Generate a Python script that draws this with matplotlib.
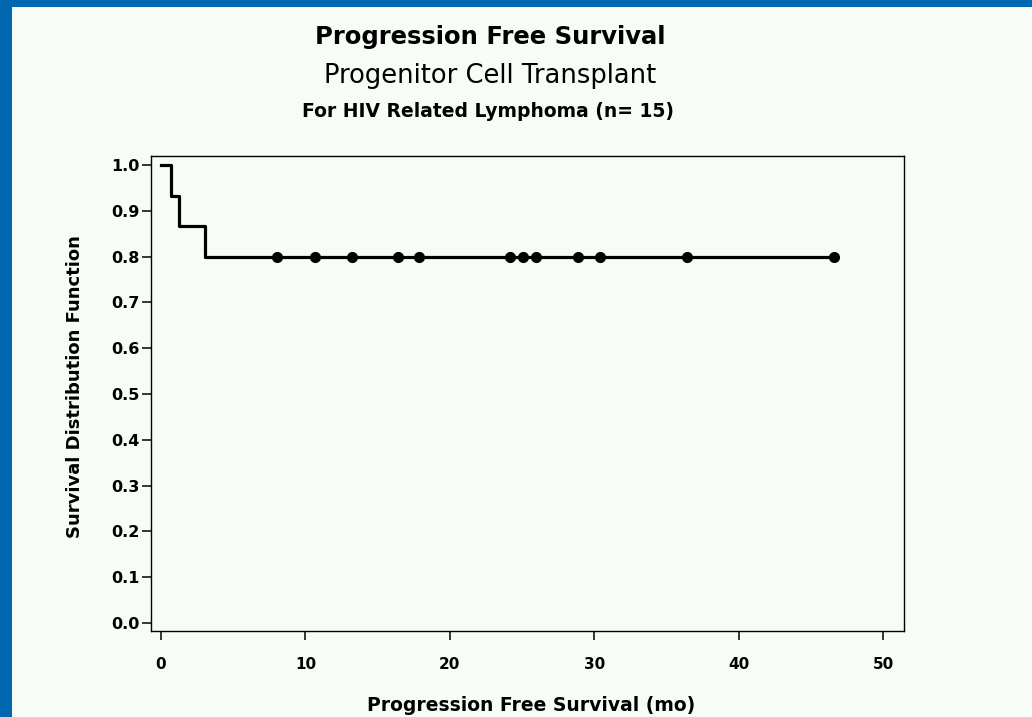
import matplotlib
matplotlib.use("Agg")
import matplotlib.pyplot as plt
from matplotlib.patches import Rectangle
import numpy as np

# ---- data ----
event_times = [0.0, 0.69, 1.25, 3.05]          # months where survival steps
survival_levels = [1.0, 0.933, 0.867, 0.8]     # survival after each step
censor_times = [8.0, 10.7, 13.2, 16.4, 17.9, 24.2, 25.1, 26.0, 28.9, 30.4, 36.4, 46.6]
x_ticks = [0, 10, 20, 30, 40, 50]
y_ticks = [0.0, 0.1, 0.2, 0.3, 0.4, 0.5, 0.6, 0.7, 0.8, 0.9, 1.0]
y_tick_labels = ["0.0", "0.1", "0.2", "0.3", "0.4", "0.5", "0.6", "0.7", "0.8", "0.9", "1.0"]

title_1 = "Progression Free Survival"
title_2 = "Progenitor Cell Transplant"
title_3 = "For HIV Related Lymphoma (n= 15)"
x_label = "Progression Free Survival (mo)"
y_label = "Survival Distribution Function"

BG = "#f7fcf7"
BLUE = "#0067b1"

plt.rcParams["font.family"] = ["DejaVu Sans"]

fig = plt.figure(figsize=(10.32, 7.17), dpi=100, facecolor=BG)

# blue slide frame (left and top bands)
fig.patches.append(Rectangle((0, 0), 12 / 1032, 1, transform=fig.transFigure,
                             facecolor=BLUE, edgecolor="none", zorder=0))
fig.patches.append(Rectangle((0, 1 - 7 / 717), 1, 7 / 717, transform=fig.transFigure,
                             facecolor=BLUE, edgecolor="none", zorder=0))

ax = fig.add_axes([151 / 1032, 1 - 631 / 717, 753 / 1032, 475 / 717])
ax.set_facecolor(BG)

# Kaplan-Meier step curve
last_t = max(censor_times)
step_x = event_times + [last_t]
step_y = survival_levels + [survival_levels[-1]]
ax.plot(step_x, step_y, drawstyle="steps-post", color="black", lw=2.3, zorder=3)

# censored observations
idx = np.searchsorted(event_times, censor_times, side="right") - 1
censor_y = [survival_levels[i] for i in idx]
ax.plot(censor_times, censor_y, linestyle="none", marker="o", markersize=7,
        color="black", zorder=4)

ax.set_xlim(-0.69, 51.45)
ax.set_ylim(-0.0175, 1.0197)
ax.set_xticks(x_ticks)
ax.set_xticklabels([str(v) for v in x_ticks], fontsize=11, fontweight="bold")
ax.set_yticks(y_ticks)
ax.set_yticklabels(y_tick_labels, fontsize=11.5, fontweight="bold")

ax.tick_params(axis="x", direction="out", length=6.5, width=1.1, pad=12)
ax.tick_params(axis="y", direction="out", length=6.5, width=1.1, pad=2)
for s in ax.spines.values():
    s.set_linewidth(1.0)
    s.set_color("black")

ax.set_ylabel(y_label, fontsize=13, fontweight="bold")
ax.yaxis.set_label_coords((75 - 151) / 753, (631 - 387) / 475)
ax.yaxis.label.set_va("center")

ax.set_xlabel(x_label, fontsize=13.5, fontweight="bold")
ax.xaxis.set_label_coords((531 - 151) / 753, (631 - 711) / 475)
ax.xaxis.label.set_va("baseline")

fig.text(490 / 1032, 1 - 44 / 717, title_1, ha="center", va="baseline",
         fontsize=17.5, fontweight="bold")
fig.text(490 / 1032, 1 - 83 / 717, title_2, ha="center", va="baseline",
         fontsize=18.5, fontweight="medium")
fig.text(488 / 1032, 1 - 117 / 717, title_3, ha="center", va="baseline",
         fontsize=13.5, fontweight="bold")

fig.savefig("out.png", dpi=100, facecolor=BG)
